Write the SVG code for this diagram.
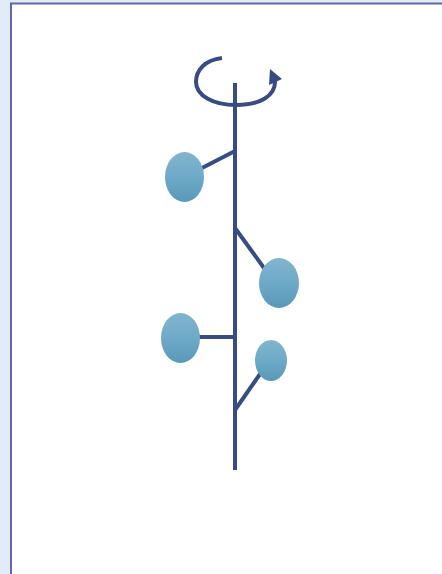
<svg xmlns="http://www.w3.org/2000/svg" width="442" height="574" viewBox="0 0 442 574">
<defs>
<linearGradient id="g" x1="0" y1="0" x2="0" y2="1">
<stop offset="0" stop-color="#82b5cc"/>
<stop offset="0.5" stop-color="#6eaac8"/>
<stop offset="1" stop-color="#5b97b6"/>
</linearGradient>
</defs>
<style>
.ln{stroke:#384c82;stroke-width:4;fill:none}
.lf{fill:url(#g)}
</style>
<rect x="0" y="0" width="442" height="574" fill="#e3ebf6"/>
<rect x="11" y="3.5" width="440" height="580" fill="#ffffff" stroke="#5f68ab" stroke-width="2"/>
<g id="connectors">
<line class="ln" x1="235" y1="83" x2="235" y2="470"/>
<path class="ln" d="M222,58 C205,60 196,70 196,82 C196,96 214,105 236,105 C260,105 276,96 275,80" stroke-width="3"/>
<polygon points="270,69 282,79 269,85" fill="#384c82"/>
<line class="ln" x1="235" y1="151" x2="202" y2="168"/>
<line class="ln" x1="235" y1="228" x2="264" y2="268"/>
<line class="ln" x1="235" y1="337" x2="199" y2="337"/>
<line class="ln" x1="235" y1="410" x2="260" y2="374"/>
</g>
<g id="leaf1"><ellipse class="lf" cx="184.5" cy="177" rx="19.5" ry="25"/></g>
<g id="leaf2"><ellipse class="lf" cx="279" cy="283" rx="20" ry="25"/></g>
<g id="leaf3"><ellipse class="lf" cx="180.5" cy="338" rx="19.5" ry="25"/></g>
<g id="leaf4"><ellipse class="lf" cx="271" cy="360.5" rx="16" ry="20.5"/></g>
</svg>
